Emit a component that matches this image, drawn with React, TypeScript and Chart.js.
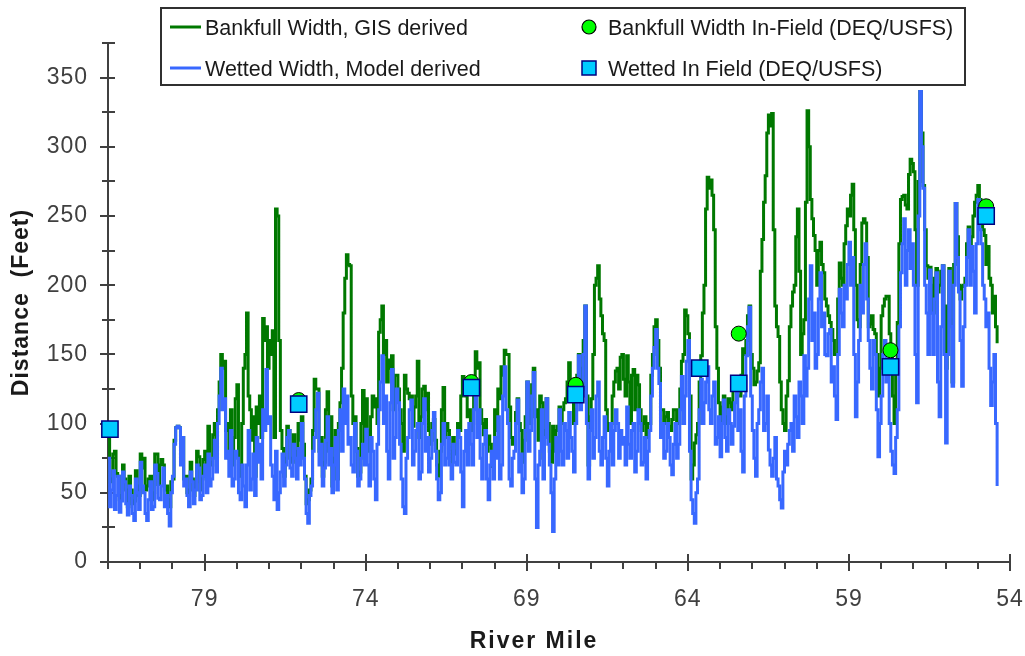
import React, { useEffect, useRef } from 'react';
import { Chart, registerables } from 'chart.js';

Chart.register(...registerables);

// River mile of the first sample and spacing between samples (miles)
const MILE_START = 82;
const MILE_STEP = 0.05;

// Bankfull width, GIS derived (feet), RM 82.0 downstream to RM 54.4 (one row per mile)
const bankfullWidth = [
  92, 58, 60, 78, 80, 64, 62, 45, 48, 70, 60, 52, 40, 62, 52, 42, 44, 66, 55, 48,
  78, 68, 75, 52, 55, 60, 62, 45, 50, 78, 78, 56, 70, 74, 70, 52, 55, 45, 40, 58,
  60, 88, 97, 98, 97, 75, 90, 60, 62, 50, 52, 72, 60, 48, 58, 80, 76, 52, 60, 74,
  80, 62, 98, 72, 70, 92, 100, 82, 110, 130, 150, 140, 145, 95, 100, 75, 110, 70, 90, 118,
  128, 70, 62, 100, 140, 150, 180, 120, 110, 88, 105, 62, 112, 100, 120, 90, 176, 160, 170, 140,
  160, 150, 167, 90, 255, 250, 160, 95, 82, 62, 75, 98, 95, 75, 72, 92, 80, 70, 100, 88,
  105, 85, 62, 42, 45, 52, 60, 95, 132, 125, 125, 80, 90, 62, 72, 110, 123, 80, 105, 55,
  75, 95, 60, 100, 115, 140, 180, 205, 222, 215, 214, 120, 100, 105, 82, 62, 65, 100, 124, 85,
  118, 95, 80, 105, 120, 112, 118, 100, 166, 175, 185, 150, 160, 130, 146, 140, 149, 110, 135, 135,
  125, 110, 100, 80, 135, 125, 122, 118, 120, 98, 112, 120, 145, 90, 105, 125, 127, 110, 122, 95,
  85, 100, 103, 88, 70, 62, 80, 110, 126, 90, 100, 95, 80, 72, 90, 80, 78, 100, 95, 120,
  134, 125, 120, 105, 110, 95, 100, 130, 152, 140, 144, 110, 100, 92, 103, 80, 91, 85, 69, 78,
  110, 95, 125, 118, 141, 135, 153, 150, 150, 112, 90, 85, 90, 108, 118, 100, 95, 72, 88, 105,
  130, 110, 100, 128, 140, 105, 110, 88, 120, 115, 75, 95, 118, 100, 80, 72, 98, 80, 95, 98,
  112, 100, 110, 115, 118, 130, 144, 125, 120, 100, 110, 135, 150, 140, 125, 160, 185, 120, 70, 105,
  118, 150, 200, 205, 214, 190, 178, 165, 160, 110, 95, 100, 100, 120, 130, 138, 140, 125, 148, 150,
  132, 120, 149, 130, 100, 135, 139, 110, 135, 128, 110, 95, 100, 105, 90, 100, 100, 135, 150, 170,
  175, 160, 140, 110, 110, 100, 105, 108, 98, 95, 103, 110, 110, 100, 100, 125, 145, 150, 182, 178,
  165, 120, 60, 70, 86, 92, 100, 130, 149, 180, 200, 255, 278, 270, 276, 265, 240, 170, 140, 115,
  100, 112, 120, 105, 100, 118, 115, 110, 129, 126, 128, 120, 120, 135, 154, 150, 160, 178, 185, 150,
  140, 128, 130, 138, 144, 210, 233, 260, 279, 310, 323, 315, 324, 240, 185, 170, 163, 130, 110, 100,
  95, 120, 131, 170, 185, 195, 200, 235, 255, 210, 150, 165, 175, 260, 326, 300, 262, 248, 236, 225,
  200, 225, 231, 215, 209, 190, 185, 178, 173, 168, 160, 150, 150, 190, 216, 205, 200, 230, 243, 255,
  250, 265, 273, 240, 200, 175, 170, 215, 245, 248, 245, 220, 170, 172, 178, 168, 165, 150, 120, 140,
  178, 185, 190, 192, 192, 165, 150, 120, 100, 145, 173, 230, 262, 264, 265, 258, 255, 280, 291, 288,
  282, 240, 200, 275, 340, 310, 272, 240, 214, 205, 213, 200, 180, 205, 212, 195, 200, 210, 214, 185,
  140, 185, 212, 175, 130, 215, 259, 235, 200, 190, 199, 200, 205, 230, 242, 225, 235, 250, 260, 265,
  272, 262, 250, 240, 236, 215, 228, 205, 200, 180, 192, 170, 158,
];

// Wetted width, model derived (feet), same river miles
const wettedWidth = [
  75, 40, 52, 66, 38, 48, 62, 36, 44, 65, 58, 42, 34, 55, 48, 35, 30, 60, 50, 38,
  72, 55, 50, 35, 30, 45, 58, 38, 40, 70, 64, 46, 45, 55, 68, 40, 48, 35, 26, 50,
  62, 85, 97, 98, 97, 70, 90, 55, 60, 48, 40, 65, 58, 42, 52, 70, 68, 45, 48, 62,
  70, 50, 78, 55, 60, 75, 88, 65, 100, 120, 140, 110, 118, 75, 80, 62, 95, 55, 60, 80,
  75, 50, 45, 70, 55, 40, 70, 95, 52, 60, 78, 48, 90, 72, 85, 60, 110, 95, 139, 100,
  105, 70, 62, 45, 80, 38, 50, 65, 78, 55, 70, 90, 95, 68, 62, 85, 75, 60, 82, 70,
  100, 75, 60, 35, 28, 48, 55, 80, 90, 110, 122, 70, 85, 55, 68, 88, 105, 70, 82, 50,
  70, 90, 52, 95, 110, 80, 125, 100, 120, 85, 90, 70, 65, 100, 80, 55, 60, 75, 85, 70,
  96, 70, 55, 90, 80, 60, 45, 85, 110, 130, 149, 100, 120, 80, 60, 115, 139, 75, 90, 125,
  115, 85, 60, 40, 35, 75, 90, 110, 117, 70, 80, 95, 100, 60, 65, 100, 118, 80, 90, 65,
  75, 95, 108, 80, 60, 45, 50, 85, 100, 70, 75, 90, 70, 60, 85, 72, 70, 95, 90, 65,
  40, 80, 95, 70, 100, 85, 70, 110, 127, 90, 110, 75, 60, 85, 95, 60, 45, 70, 80, 60,
  90, 75, 105, 60, 70, 120, 141, 110, 100, 60, 55, 75, 80, 100, 117, 65, 78, 50, 60, 95,
  130, 80, 95, 120, 137, 60, 25, 70, 80, 110, 60, 90, 118, 85, 70, 50, 22, 60, 90, 70,
  110, 80, 70, 100, 95, 75, 108, 90, 80, 65, 100, 125, 149, 110, 120, 150, 185, 100, 60, 95,
  110, 75, 90, 120, 130, 80, 70, 90, 105, 75, 55, 80, 100, 70, 95, 110, 100, 75, 95, 85,
  90, 70, 112, 85, 75, 95, 100, 65, 80, 110, 100, 70, 72, 90, 60, 80, 95, 120, 140, 155,
  168, 140, 129, 90, 100, 75, 80, 100, 90, 70, 63, 85, 100, 75, 85, 110, 134, 100, 120, 145,
  160, 80, 45, 35, 28, 50, 60, 110, 132, 100, 115, 130, 141, 110, 100, 120, 130, 85, 90, 105,
  76, 100, 117, 90, 80, 110, 100, 85, 98, 115, 125, 95, 110, 80, 65, 120, 149, 170, 184, 120,
  95, 75, 62, 100, 110, 130, 140, 95, 100, 120, 81, 70, 62, 75, 90, 60, 55, 45, 39, 65,
  80, 70, 85, 95, 100, 80, 120, 105, 90, 130, 120, 100, 149, 120, 140, 190, 214, 160, 180, 140,
  150, 190, 209, 170, 180, 150, 149, 165, 168, 130, 141, 120, 103, 150, 197, 180, 170, 200, 190, 215,
  231, 200, 220, 150, 105, 130, 160, 200, 180, 215, 230, 190, 160, 140, 125, 160, 150, 110, 76, 100,
  120, 150, 160, 130, 140, 100, 80, 70, 64, 90, 110, 170, 209, 230, 248, 200, 225, 240, 212, 230,
  200, 150, 115, 250, 340, 300, 270, 200, 180, 150, 211, 180, 150, 190, 209, 130, 105, 170, 214, 150,
  86, 150, 210, 170, 127, 200, 259, 220, 195, 160, 127, 170, 200, 220, 240, 200, 228, 210, 180, 230,
  262, 240, 230, 200, 190, 170, 180, 140, 113, 130, 150, 100, 55,
];

// In-field measurements (DEQ/USFS)
const bankfullFieldMiles = [76.08, 70.72, 67.48, 62.42, 57.71, 54.74];
const bankfullField = [117, 130, 128, 165, 153, 257];
const wettedFieldMiles = [81.94, 76.08, 70.72, 67.48, 63.63, 62.42, 57.71, 54.74];
const wettedField = [96, 114, 126, 121, 140, 129, 141, 250];

// Axis settings
const X_MIN = 54;
const X_MAX = 82;
const X_LABEL_EVERY = 5;
const Y_MIN = 0;
const Y_MAX = 375;
const Y_STEP = 25;
const Y_LABEL_EVERY = 50;

const legendLabels = [
  'Bankfull Width, GIS derived',
  'Wetted Width, Model derived',
  'Bankfull Width In-Field (DEQ/USFS)',
  'Wetted In Field (DEQ/USFS)',
];
const xTitle = 'River Mile';
const yTitle = 'Distance  (Feet)';

const GREEN = '#007800';
const BLUE = '#3868ff';
const CIRCLE_FILL = '#00ff00';
const SQUARE_FILL = '#00ccff';
const SQUARE_EDGE = '#000080';
const AXIS_COLOR = '#404040';
const TEXT_COLOR = '#1a1a1a';
const FONT = "'Liberation Sans', Arial, sans-serif";

const decorPlugin = {
  id: 'decor',
  beforeDraw(chart: any) {
    chart.ctx.letterSpacing = '1px';
  },
  beforeDatasetsDraw(chart: any) {
    const { ctx, chartArea } = chart;
    const x = chart.scales.x;
    const y = chart.scales.y;
    ctx.save();
    ctx.strokeStyle = AXIS_COLOR;
    ctx.lineWidth = 2;
    ctx.beginPath();
    ctx.moveTo(chartArea.left, chartArea.top);
    ctx.lineTo(chartArea.left, chartArea.bottom);
    ctx.lineTo(chartArea.right, chartArea.bottom);
    y.ticks.forEach((t: any) => {
      const py = Math.round(y.getPixelForValue(t.value));
      const major = t.value % Y_LABEL_EVERY === 0;
      ctx.moveTo(chartArea.left - (major ? 8 : 6), py);
      ctx.lineTo(chartArea.left + 7, py);
    });
    x.ticks.forEach((t: any) => {
      const px = Math.round(x.getPixelForValue(t.value));
      const major = Math.round(t.value - X_MIN) % X_LABEL_EVERY === 0;
      ctx.moveTo(px, chartArea.bottom - (major ? 8 : 0));
      ctx.lineTo(px, chartArea.bottom + (major ? 9 : 7));
    });
    ctx.stroke();
    ctx.restore();
  },
  afterDraw(chart: any) {
    const { ctx, chartArea } = chart;
    ctx.save();
    // axis titles
    ctx.fillStyle = TEXT_COLOR;
    ctx.font = `bold 23px ${FONT}`;
    ctx.textAlign = 'center';
    ctx.textBaseline = 'middle';
    ctx.letterSpacing = '2px';
    ctx.fillText(xTitle, 534, 642);
    ctx.letterSpacing = '1px';
    ctx.save();
    ctx.translate(22, (chartArea.top + chartArea.bottom) / 2);
    ctx.rotate(-Math.PI / 2);
    ctx.fillText(yTitle, 0, 0);
    ctx.restore();

    // legend
    ctx.letterSpacing = '0px';
    ctx.fillStyle = '#ffffff';
    ctx.fillRect(161, 8, 804, 77);
    ctx.strokeStyle = '#303030';
    ctx.lineWidth = 2;
    ctx.strokeRect(161, 8, 804, 77);

    const rows = [27, 68];
    ctx.lineWidth = 3;
    ctx.strokeStyle = GREEN;
    ctx.beginPath();
    ctx.moveTo(170, rows[0]);
    ctx.lineTo(201, rows[0]);
    ctx.stroke();
    ctx.strokeStyle = BLUE;
    ctx.beginPath();
    ctx.moveTo(170, rows[1]);
    ctx.lineTo(201, rows[1]);
    ctx.stroke();

    ctx.fillStyle = CIRCLE_FILL;
    ctx.strokeStyle = '#000000';
    ctx.lineWidth = 1.2;
    ctx.beginPath();
    ctx.arc(589, rows[0], 7, 0, Math.PI * 2);
    ctx.fill();
    ctx.stroke();

    ctx.fillStyle = SQUARE_FILL;
    ctx.strokeStyle = SQUARE_EDGE;
    ctx.lineWidth = 1.5;
    ctx.fillRect(582, rows[1] - 7, 14, 14);
    ctx.strokeRect(582, rows[1] - 7, 14, 14);

    ctx.fillStyle = TEXT_COLOR;
    ctx.font = `21.5px ${FONT}`;
    ctx.textAlign = 'left';
    ctx.textBaseline = 'alphabetic';
    ctx.fillText(legendLabels[0], 205, rows[0] + 8);
    ctx.fillText(legendLabels[1], 205, rows[1] + 8);
    ctx.fillText(legendLabels[2], 608, rows[0] + 8);
    ctx.fillText(legendLabels[3], 608, rows[1] + 8);
    ctx.restore();
  },
};

export default function App() {
  const canvasRef = useRef<HTMLCanvasElement | null>(null);

  useEffect(() => {
    document.body.style.margin = '0';
    const canvas = canvasRef.current;
    if (!canvas) return;

    const toPoints = (vals: number[]) =>
      vals.map((v, i) => ({ x: MILE_START - i * MILE_STEP, y: v }));
    const pair = (miles: number[], vals: number[]) =>
      miles.map((m, i) => ({ x: m, y: vals[i] }));

    const chart = new Chart(canvas, {
      type: 'line',
      data: {
        datasets: [
          {
            label: legendLabels[3],
            data: pair(wettedFieldMiles, wettedField),
            showLine: false,
            pointStyle: 'rect',
            pointRadius: 11.5,
            pointBackgroundColor: SQUARE_FILL,
            pointBorderColor: SQUARE_EDGE,
            pointBorderWidth: 1.5,
            order: 0,
            clip: false,
          },
          {
            label: legendLabels[2],
            data: pair(bankfullFieldMiles, bankfullField),
            showLine: false,
            pointStyle: 'circle',
            pointRadius: 7.5,
            pointBackgroundColor: CIRCLE_FILL,
            pointBorderColor: '#000000',
            pointBorderWidth: 1,
            order: 1,
            clip: false,
          },
          {
            label: legendLabels[1],
            data: toPoints(wettedWidth),
            borderColor: BLUE,
            borderWidth: 3,
            borderJoinStyle: 'miter',
            pointRadius: 0,
            stepped: 'before',
            fill: false,
            order: 2,
          },
          {
            label: legendLabels[0],
            data: toPoints(bankfullWidth),
            borderColor: GREEN,
            borderWidth: 3,
            borderJoinStyle: 'miter',
            pointRadius: 0,
            stepped: 'before',
            fill: false,
            order: 3,
          },
        ],
      },
      options: {
        animation: false,
        responsive: false,
        maintainAspectRatio: false,
        layout: { autoPadding: false, padding: { left: 0, right: 15, top: 43, bottom: 0 } },
        plugins: {
          legend: { display: false },
          tooltip: { enabled: false },
        },
        scales: {
          x: {
            type: 'linear',
            position: 'bottom',
            min: X_MIN,
            max: X_MAX,
            reverse: true,
            grid: { display: false, drawTicks: false },
            border: { display: false },
            afterFit: (s: any) => {
              s.height = 94;
              s.paddingLeft = 0;
              s.paddingRight = 0;
            },
            ticks: {
              stepSize: 1,
              autoSkip: false,
              maxRotation: 0,
              minRotation: 0,
              padding: 24,
              color: '#404040',
              font: { family: FONT, size: 23 },
              callback: (v: any) =>
                Math.round(Number(v) - X_MIN) % X_LABEL_EVERY === 0 ? String(Math.round(Number(v))) : '',
            },
          },
          y: {
            type: 'linear',
            min: Y_MIN,
            max: Y_MAX,
            grid: { display: false, drawTicks: false },
            border: { display: false },
            afterFit: (s: any) => {
              s.width = 108;
              s.paddingTop = 0;
              s.paddingBottom = 0;
            },
            ticks: {
              stepSize: Y_STEP,
              padding: 20,
              color: '#404040',
              font: { family: FONT, size: 23 },
              callback: (v: any) => (Number(v) % Y_LABEL_EVERY === 0 ? String(v) : ''),
            },
          },
        },
      },
      plugins: [decorPlugin],
    } as any);

    return () => chart.destroy();
  }, []);

  return (
    <div style={{ width: 1025, height: 656 }}>
      <canvas ref={canvasRef} width={1025} height={656} style={{ display: 'block' }} />
    </div>
  );
}
